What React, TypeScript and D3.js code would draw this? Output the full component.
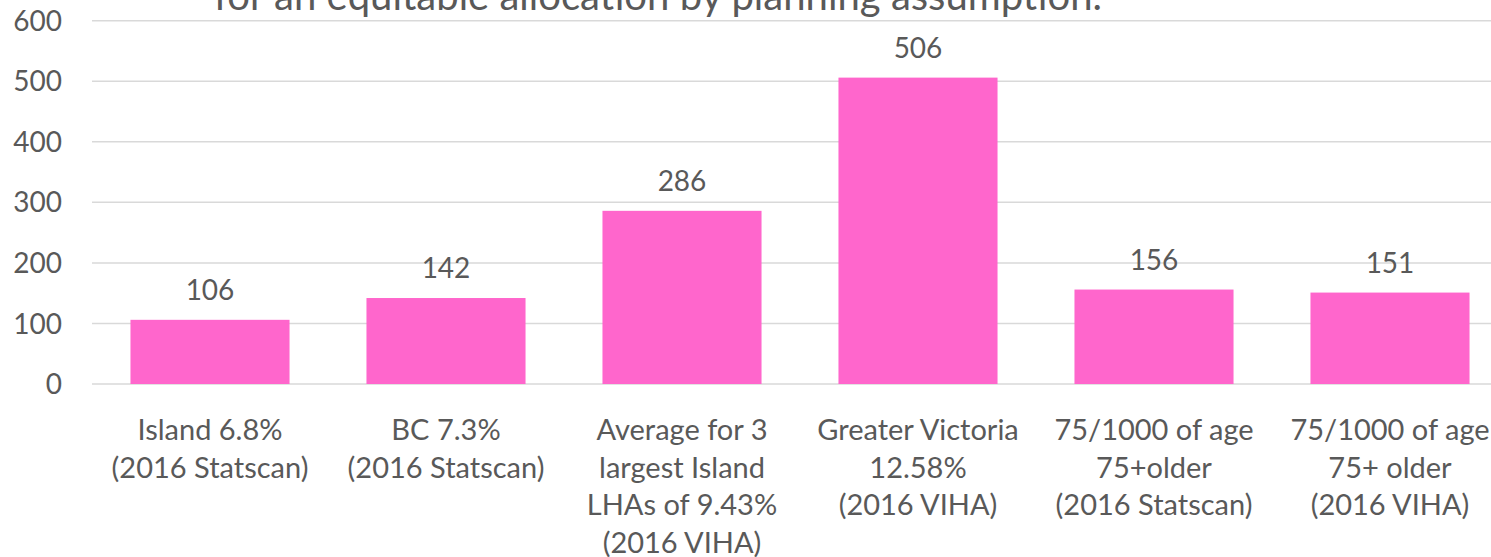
import React from "react";
import * as d3 from "d3";

const categories: string[][] = [
  ["Island 6.8%", "(2016 Statscan)"],
  ["BC 7.3%", "(2016 Statscan)"],
  ["Average for 3", "largest Island", "LHAs of 9.43%", "(2016 VIHA)"],
  ["Greater Victoria", "12.58%", "(2016 VIHA)"],
  ["75/1000 of age", "75+older", "(2016 Statscan)"],
  ["75/1000 of age", "75+ older", "(2016 VIHA)"],
];
const values = [106, 142, 286, 506, 156, 151];
const yTicks = [0, 100, 200, 300, 400, 500, 600];
const title = "for an equitable allocation by planning assumption.";

const W = 1491;
const H = 557;
const FONT = "Lato, 'Open Sans', sans-serif";
const TEXT = "#595959";

export default function App() {
  const idx = categories.map((_, i) => String(i));
  const x = d3.scaleBand().domain(idx).range([92, 1508]).paddingInner(0.326).paddingOuter(0.163);
  const y = d3.scaleLinear().domain([0, 600]).range([384, 20.7]);
  const cx = (i: number) => (x(String(i)) as number) + x.bandwidth() / 2;

  return (
    <svg
      width={W}
      height={H}
      style={{ position: "absolute", left: 0, top: 0, background: "#fff" }}
      fontFamily={FONT}
    >
      {/* grid + y labels */}
      {yTicks.map((t) => (
        <g key={t}>
          <line x1={92} x2={W} y1={y(t)} y2={y(t)} stroke="#d9d9d9" strokeWidth={1.5} />
          <text x={62} y={y(t)} dy="0.36em" textAnchor="end" fontSize={28} fill={TEXT}>
            {t}
          </text>
        </g>
      ))}

      {/* bars */}
      {values.map((v, i) => (
        <g key={i}>
          <rect x={x(String(i))} y={y(v)} width={x.bandwidth()} height={y(0) - y(v)} fill="#FF66CC" />
          <text x={cx(i)} y={y(v) - 20} textAnchor="middle" fontSize={28} fill={TEXT}>
            {v}
          </text>
        </g>
      ))}

      {/* category labels */}
      {categories.map((lines, i) => (
        <text key={i} x={cx(i)} y={440} textAnchor="middle" fontSize={29} fill={TEXT}>
          {lines.map((l, j) => (
            <tspan key={j} x={cx(i)} dy={j === 0 ? 0 : 37.7}>
              {l}
            </tspan>
          ))}
        </text>
      ))}

      {/* title, cut off at the top */}
      <text x={658} y={10} textAnchor="middle" fontSize={40} fill={TEXT} textLength={888} lengthAdjust="spacingAndGlyphs">
        {title}
      </text>
    </svg>
  );
}
